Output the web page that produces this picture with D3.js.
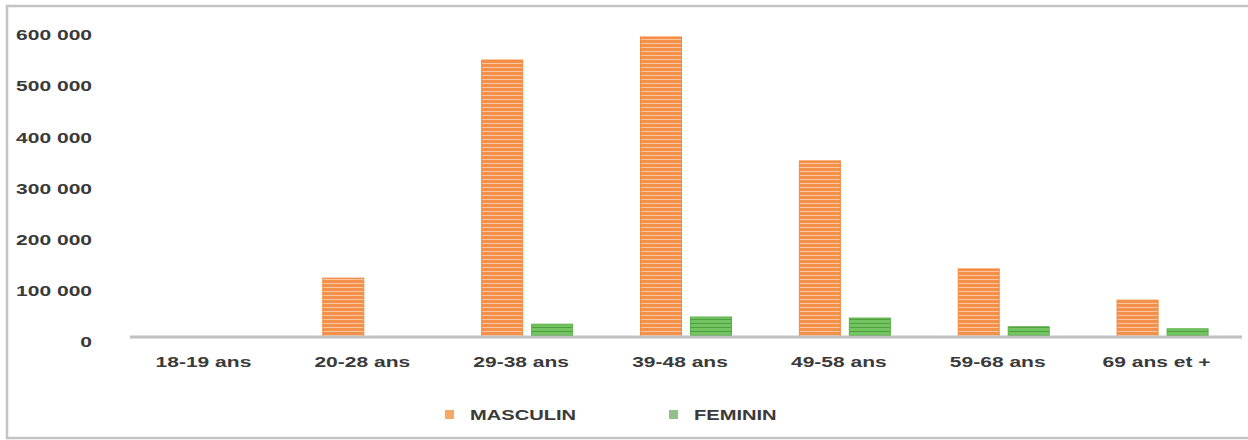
<!DOCTYPE html>
<html>
<head>
<meta charset="utf-8">
<script src="https://cdn.jsdelivr.net/npm/d3@7"></script>
<style>
  html, body { margin: 0; padding: 0; background: #ffffff; }
  svg { display: block; }
  text { font-family: "Liberation Sans", Arial, sans-serif; font-weight: bold; fill: #3a3a3a; }
</style>
</head>
<body>
<svg id="chart" width="1248" height="440"></svg>
<script>
// Age groups and headcount by sex
const categories = ["18-19 ans", "20-28 ans", "29-38 ans", "39-48 ans", "49-58 ans", "59-68 ans", "69 ans et +"];
const series = ["MASCULIN", "FEMININ"];
const masculin = [0, 115000, 541000, 586000, 344000, 133000, 72000];
const feminin = [0, 0, 25000, 39000, 37000, 20000, 16000];
const yTicks = [0, 100000, 200000, 300000, 400000, 500000, 600000];

const values = { MASCULIN: masculin, FEMININ: feminin };

const svg = d3.select("#chart");
const W = 1248, H = 440;
const xStretch = 1.4; // labels are drawn horizontally widened

// Striped fills
const defs = svg.append("defs");
function stripes(id, base, line) {
  const p = defs.append("pattern").attr("id", id)
    .attr("patternUnits", "userSpaceOnUse").attr("width", 8).attr("height", 4);
  p.append("rect").attr("width", 8).attr("height", 4).attr("fill", base);
  p.append("rect").attr("y", 3).attr("width", 8).attr("height", 1).attr("fill", line);
}
stripes("pat-m", "#f3904a", "#fcc7a0");
stripes("pat-f", "#72c460", "#4f9f40");
const fills = { MASCULIN: "url(#pat-m)", FEMININ: "url(#pat-f)" };
const strokes = { MASCULIN: "#f58a3f", FEMININ: "#5aae48" };
const swatch = { MASCULIN: "#f6a866", FEMININ: "#92c08a" };

// Outer frame (open on the right, where it runs past the page)
svg.append("path")
  .attr("d", `M${W + 5},6 H7 V438 H${W + 5}`)
  .attr("fill", "none").attr("stroke", "#c4c4c4").attr("stroke-width", 2.5);

// Scales
const x0 = d3.scaleBand().domain(categories).range([130, 1242]).paddingInner(0).paddingOuter(0);
const half = 45.5;
const x1 = d3.scaleBand().domain(series)
  .range([x0.bandwidth() / 2 - half, x0.bandwidth() / 2 + half]).paddingInner(0.18);
const y = d3.scaleLinear().domain([0, 600000]).range([337, 29.8]);

function widen(sel, k) {
  sel.each(function () {
    const len = this.getComputedTextLength();
    d3.select(this).attr("textLength", len * k).attr("lengthAdjust", "spacingAndGlyphs");
  });
}

// Y axis labels (no axis line, no ticks)
const fmt = d3.formatLocale({ decimal: ",", thousands: " ", grouping: [3], currency: ["", ""] }).format(",d");
const yAxis = d3.axisLeft(y).tickValues(yTicks).tickFormat(fmt).tickSize(0).tickPadding(0);
const gy = svg.append("g").attr("transform", "translate(92,5)").call(yAxis);
gy.select(".domain").remove();
gy.selectAll("text")
  .attr("font-size", 15).attr("font-family", null).attr("fill", "#3a3a3a")
  .attr("x", 0).attr("text-anchor", "end");
widen(gy.selectAll("text"), xStretch);

// Bars
const groups = svg.append("g").selectAll("g")
  .data(categories).join("g")
  .attr("transform", d => `translate(${x0(d)},0)`);

groups.selectAll("rect")
  .data((d, i) => series.map(s => ({ s, v: values[s][i] })))
  .join("rect")
  .attr("x", d => x1(d.s))
  .attr("width", x1.bandwidth())
  .attr("y", d => y(d.v))
  .attr("height", d => y(0) - y(d.v))
  .attr("fill", d => fills[d.s])
  .attr("stroke", d => strokes[d.s])
  .attr("stroke-width", d => d.v > 0 ? 1 : 0);

// X axis line and labels
const xAxis = d3.axisBottom(x0).tickSize(0).tickPadding(0);
const gx = svg.append("g").attr("transform", `translate(0,${y(0)})`).call(xAxis);
gx.select(".domain").attr("stroke", "#c0c0c0").attr("stroke-width", 3)
  .attr("d", `M${x0.range()[0]},0H${x0.range()[1]}`);
gx.selectAll("text")
  .attr("font-size", 15).attr("font-family", null).attr("fill", "#3a3a3a")
  .attr("x", -6).attr("y", 30).attr("dy", 0);
widen(gx.selectAll("text"), xStretch);

// Legend
const legendX = { MASCULIN: 445, FEMININ: 669 };
const lg = svg.append("g");
series.forEach(s => {
  lg.append("rect").attr("x", legendX[s]).attr("y", 410).attr("width", 9).attr("height", 9)
    .attr("fill", swatch[s]);
  const t = lg.append("text").attr("x", legendX[s] + 25).attr("y", 420)
    .attr("font-size", 15).text(s);
  widen(t, 1.34);
});
</script>
</body>
</html>
